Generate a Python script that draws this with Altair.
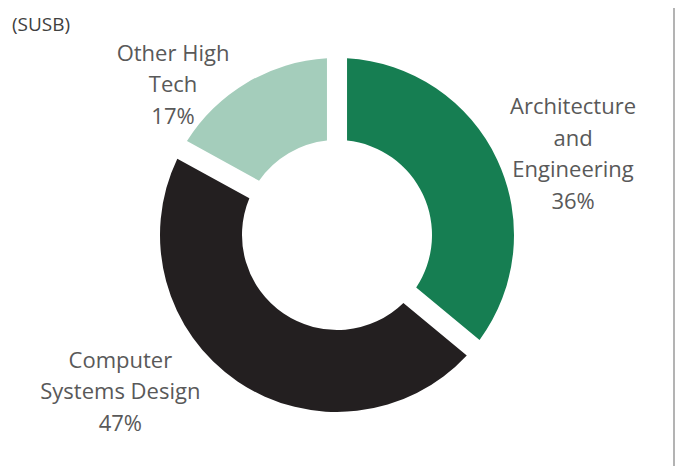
import altair as alt
import pandas as pd

categories = ["Architecture and Engineering", "Computer Systems Design", "Other High Tech"]
label_lines = ["Architecture\nand\nEngineering", "Computer\nSystems Design", "Other High\nTech"]
shares = [36, 47, 17]
colors = ["#167e52", "#231f20", "#a4cdbb"]
order_idx = [0, 1, 2]

df = pd.DataFrame({
    "category": categories,
    "lines": label_lines,
    "share": shares,
    "idx": order_idx,
})

TOP = 30
W, H = 667, 458 - TOP
CX, CY = 329, 227 - TOP
FONT = "Open Sans"

base = alt.Chart(df)

arcs = base.mark_arc(innerRadius=95, outerRadius=177, padAngle=0.1).encode(
    theta=alt.Theta("share:Q", stack=True),
    order=alt.Order("idx:Q"),
    color=alt.Color("category:N", scale=alt.Scale(domain=categories, range=colors), legend=None),
    x=alt.value(CX),
    y=alt.value(CY),
)

label_base = base.transform_window(
    cum="sum(share)", sort=[alt.SortField("idx")]
).transform_calculate(
    mid="datum.cum - datum.share / 2",
    label="datum.lines + '\\n' + datum.share + '%'",
)

offsets = {
    "Architecture and Engineering": (37, -34),
    "Computer Systems Design": (-93, -56),
    "Other High Tech": (-52, 8),
}

label_layers = []
for cat in categories:
    dx, dy = offsets[cat]
    label_layers.append(
        label_base.transform_filter(alt.datum.category == cat).mark_text(
            radius=220, dx=dx, dy=dy, font=FONT, fontSize=22, color="#595959",
            lineBreak="\n", lineHeight=31.5, align="center", baseline="middle",
        ).encode(
            theta=alt.Theta("mid:Q", scale=alt.Scale(domain=[0, 100]), stack=None),
            text="label:N",
            x=alt.value(CX),
            y=alt.value(CY),
        )
    )

border = alt.Chart(pd.DataFrame({"v": [0]})).mark_rule(color="#9a9a9a", strokeWidth=1.5).encode(
    x=alt.value(W - 1), y=alt.value(-TOP), y2=alt.value(H)
)

chart = alt.layer(arcs, *label_layers, border).properties(
    width=W, height=H,
    autosize=alt.AutoSizeParams(type="none"),
    padding={"left": 0, "top": TOP, "right": 0, "bottom": 0},
    title=alt.Title("(SUSB)", anchor="start", orient="top", baseline="alphabetic", offset=0,
                    dy=43, frame="group", font=FONT, fontSize=19, fontWeight="normal",
                    color="#404040", dx=4),
).configure_view(stroke=None)

chart.save("out.html", embed_options={"renderer": "svg", "actions": False})
